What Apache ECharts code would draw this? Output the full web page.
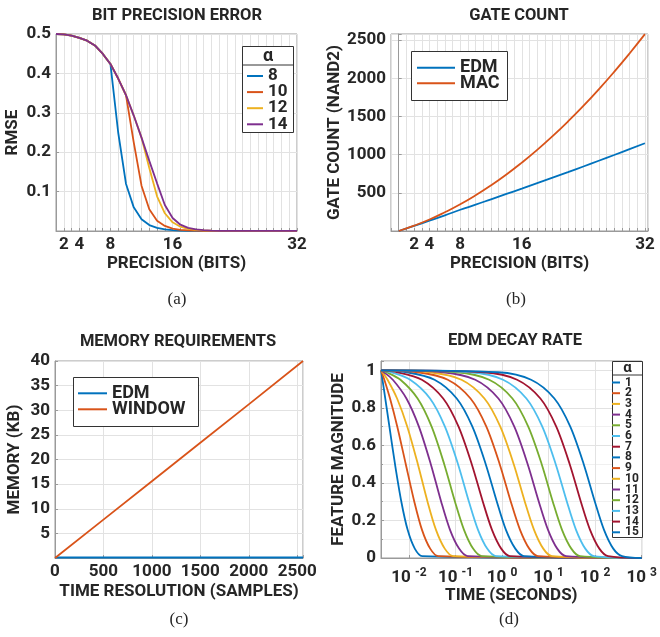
<!DOCTYPE html>
<html lang="en">
<head>
<meta charset="UTF-8">
<title>EDM figure</title>
<script src="https://cdn.jsdelivr.net/npm/echarts@6/dist/echarts.min.js"></script>
<style>body{margin:0;background:#fff}</style>
</head>
<body>
<div id="fig" style="width:660px;height:637px;"></div>
<script>
// (a) bit precision error, RMSE per precision for each alpha
var precisionBits = [1,2,3,4,5,6,7,8,9,10,11,12,13,14,15,16,17,18,19,20,21,22,23,24,25,26,27,28,29,30,31,32];
var rmseAlpha8  = [0.500,0.499,0.496,0.490,0.483,0.471,0.450,0.424,0.250,0.120,0.060,0.030,0.015,0.008,0.004,0.002,0.001,0.0005,0.0005,0.0005,0.0005,0.0005,0.0005,0.0005,0.0005,0.0005,0.0005,0.0005,0.0005,0.0005,0.0005,0.0005];
var rmseAlpha10 = [0.500,0.499,0.496,0.490,0.483,0.471,0.450,0.424,0.387,0.345,0.225,0.115,0.055,0.026,0.013,0.006,0.003,0.0015,0.0008,0.0005,0.0005,0.0005,0.0005,0.0005,0.0005,0.0005,0.0005,0.0005,0.0005,0.0005,0.0005,0.0005];
var rmseAlpha12 = [0.500,0.499,0.496,0.490,0.483,0.471,0.450,0.424,0.387,0.345,0.293,0.237,0.160,0.088,0.045,0.022,0.011,0.0055,0.0028,0.0014,0.0008,0.0005,0.0005,0.0005,0.0005,0.0005,0.0005,0.0005,0.0005,0.0005,0.0005,0.0005];
var rmseAlpha14 = [0.500,0.499,0.496,0.490,0.483,0.471,0.450,0.424,0.387,0.345,0.293,0.237,0.178,0.121,0.066,0.033,0.016,0.008,0.004,0.002,0.001,0.0005,0.0005,0.0005,0.0005,0.0005,0.0005,0.0005,0.0005,0.0005,0.0005,0.0005];
var bitTickLabels = [2, 4, 8, 16, 32];

// (b) gate count
var gateBits = [0,2,4,6,8,10,12,14,16,18,20,22,24,26,28,30,32];
var edmGates = [0,67,135,205,278,345,415,485,555,626,698,771,845,920,995,1072,1149];
var macGates = [0,70,150,245,350,468,598,740,895,1062,1242,1434,1638,1855,2084,2325,2578];

// (c) memory requirements
var memSamples = [0, 500, 1000, 1500, 2000, 2560];
var edmKB = [0.1, 0.1, 0.1, 0.1, 0.1, 0.1];
var windowKB = [0, 7.8, 15.6, 23.4, 31.2, 40];

// (d) decay: time (s) at which each alpha curve reaches the given magnitude
var decayStart = [0.0025, 1];
var decayEnd = [1000, 0];
var decayLevels = [0.99, 0.95, 0.85, 0.7, 0.5, 0.3, 0.15, 0.05, 0.01];
var decayTimes = [
  [0.00254, 0.00269, 0.00309, 0.00379, 0.00500, 0.00684, 0.00934, 0.0133, 0.0191],
  [0.00259, 0.00295, 0.00391, 0.00560, 0.00852, 0.0130, 0.0190, 0.0285, 0.0425],
  [0.00269, 0.00346, 0.00554, 0.00918, 0.0155, 0.0250, 0.0380, 0.0586, 0.0887],
  [0.00289, 0.00449, 0.00880, 0.0163, 0.0294, 0.0491, 0.0760, 0.119, 0.181],
  [0.00329, 0.00654, 0.0153, 0.0306, 0.0571, 0.0973, 0.152, 0.238, 0.365],
  [0.00410, 0.0106, 0.0283, 0.0591, 0.113, 0.194, 0.304, 0.478, 0.734],
  [0.00570, 0.0189, 0.0543, 0.116, 0.223, 0.386, 0.607, 0.957, 1.47],
  [0.00892, 0.0353, 0.106, 0.230, 0.445, 0.772, 1.21, 1.92, 2.94],
  [0.0154, 0.0681, 0.210, 0.459, 0.889, 1.54, 2.43, 3.83, 5.89],
  [0.0282, 0.134, 0.418, 0.915, 1.78, 3.08, 4.86, 7.67, 11.8],
  [0.0540, 0.265, 0.834, 1.83, 3.55, 6.16, 9.71, 15.3, 23.6],
  [0.105, 0.528, 1.67, 3.65, 7.10, 12.3, 19.4, 30.7, 47.1],
  [0.208, 1.05, 3.33, 7.31, 14.2, 24.7, 38.8, 61.3, 94.3],
  [0.414, 2.10, 6.66, 14.6, 28.4, 49.3, 77.7, 123, 189],
  [0.826, 4.20, 13.3, 29.2, 56.8, 98.6, 155, 245, 377]
];
var alphaNames = ['1','2','3','4','5','6','7','8','9','10','11','12','13','14','15'];

var colors = ['#0072BD', '#D95319', '#EDB120', '#7E2F8E', '#77AC30', '#4DBEEE', '#A2142F'];
var axisGray = '#9a9a9a';
var gridGray = '#e2e2e2';
var minorGray = '#f0f0f0';
var ink = '#262626';
var font = 'Roboto';

function zip(xs, ys) {
  return xs.map(function (x, i) { return [x, ys[i]]; });
}
function stripName(name) { return name.slice(1); }

function axisBase(extra) {
  var a = {
    axisLine: { show: true, lineStyle: { color: axisGray } },
    axisTick: { show: true, inside: true, length: 3, lineStyle: { color: axisGray } },
    splitLine: { show: true, lineStyle: { color: gridGray } },
    axisLabel: { color: ink, fontFamily: font, fontWeight: 'bold', fontSize: 17, margin: 5 },
    nameLocation: 'middle',
    nameTextStyle: { color: ink, fontFamily: font, fontWeight: 'bold', fontSize: 17 }
  };
  for (var k in extra) {
    if (k === 'axisLabel') Object.assign(a.axisLabel, extra[k]);
    else a[k] = extra[k];
  }
  return a;
}

function legendBase(extra) {
  var l = {
    orient: 'vertical', icon: 'rect', itemHeight: 2, itemGap: 0, padding: 0,
    selectedMode: false, formatter: stripName,
    textStyle: { color: ink, fontFamily: font, fontWeight: 'bold', fontSize: 17 }
  };
  for (var k in extra) {
    if (k === 'textStyle') Object.assign(l.textStyle, extra[k]);
    else l[k] = extra[k];
  }
  return l;
}

function lineSeries(name, gi, data, color, smooth) {
  return {
    name: name, type: 'line', xAxisIndex: gi, yAxisIndex: gi, data: data,
    showSymbol: false, symbol: 'none', smooth: smooth,
    color: color, lineStyle: { width: 1.8, color: color }, animation: false
  };
}

var series = [];
[rmseAlpha8, rmseAlpha10, rmseAlpha12, rmseAlpha14].forEach(function (ys, i) {
  series.push(lineSeries('a' + [8, 10, 12, 14][i], 0, zip(precisionBits, ys), colors[i], false));
});
series.push(lineSeries('bEDM', 1, zip(gateBits, edmGates), colors[0], true));
series.push(lineSeries('bMAC', 1, zip(gateBits, macGates), colors[1], true));
series.push(lineSeries('cEDM', 2, zip(memSamples, edmKB), colors[0], false));
series.push(lineSeries('cWINDOW', 2, zip(memSamples, windowKB), colors[1], false));
decayTimes.forEach(function (ts, i) {
  var pts = [decayStart].concat(zip(ts, decayLevels)).concat([decayEnd]);
  series.push(lineSeries('d' + alphaNames[i], 3, pts, colors[i % 7], 0.3));
});

function text(x, y, str, fontCss) {
  return { type: 'text', x: x, y: y, z: 5,
    style: { text: str, font: fontCss, fill: ink, align: 'center', verticalAlign: 'middle' } };
}
function box(x, y, w, h) {
  return { type: 'rect', z: 3, shape: { x: x, y: y, width: w, height: h },
    style: { fill: '#fff', stroke: '#333', lineWidth: 1 } };
}
function hline(x1, x2, y) {
  return { type: 'line', z: 3, shape: { x1: x1, y1: y, x2: x2, y2: y },
    style: { stroke: '#333', lineWidth: 1 } };
}

var titleFont = 'bold 16.5px Roboto';
var capFont = '17px "Liberation Serif"';

var option = {
  backgroundColor: '#fff',
  animation: false,
  grid: [
    { left: 56, top: 34, width: 241, height: 197, show: true, borderColor: axisGray, borderWidth: 1 },
    { left: 391, top: 34, width: 257, height: 197, show: true, borderColor: axisGray, borderWidth: 1 },
    { left: 55, top: 361, width: 248, height: 197, show: true, borderColor: axisGray, borderWidth: 1 },
    { left: 381, top: 361, width: 266, height: 197, show: true, borderColor: axisGray, borderWidth: 1 }
  ],
  xAxis: [
    axisBase({ gridIndex: 0, type: 'value', min: 1, max: 32, interval: 1,
      name: 'PRECISION (BITS)', nameGap: 24,
      axisLabel: { formatter: function (v) { return bitTickLabels.indexOf(v) >= 0 ? String(v) : ''; } } }),
    axisBase({ gridIndex: 1, type: 'value', min: -1, max: 32.4, interval: 1,
      name: 'PRECISION (BITS)', nameGap: 24,
      axisLabel: { formatter: function (v) { return bitTickLabels.indexOf(v) >= 0 ? String(v) : ''; } } }),
    axisBase({ gridIndex: 2, type: 'value', min: 0, max: 2560, interval: 500,
      name: 'TIME RESOLUTION (SAMPLES)', nameGap: 25,
      axisLabel: { formatter: function (v) { return v % 500 === 0 ? String(v) : ''; } } }),
    axisBase({ gridIndex: 3, type: 'log', logBase: 10, min: 0.0025, max: 1000,
      name: 'TIME (SECONDS)', nameGap: 26,
      axisLabel: {
        margin: 9,
        formatter: function (v) {
          var e = Math.log10(v), r = Math.round(e);
          return Math.abs(e - r) < 1e-6 ? '10 {s|' + r + '}' : '';
        },
        rich: { s: { fontSize: 12, fontWeight: 'bold', fontFamily: font, color: ink, padding: [0, 0, 10, 0] } }
      } })
  ],
  yAxis: [
    axisBase({ gridIndex: 0, type: 'value', min: 0, max: 0.5, interval: 0.1,
      name: 'RMSE', nameGap: 35,
      axisLabel: { formatter: function (v) { return v === 0 ? '' : v.toFixed(1); } } }),
    axisBase({ gridIndex: 1, type: 'value', min: 0, max: 2580, interval: 500,
      name: 'GATE COUNT (NAND2)', nameGap: 47,
      axisLabel: { formatter: function (v) { return (v > 0 && v % 500 === 0) ? String(v) : ''; } } }),
    axisBase({ gridIndex: 2, type: 'value', min: 0, max: 40, interval: 5,
      name: 'MEMORY (KB)', nameGap: 32,
      axisLabel: { formatter: function (v) { return v === 0 ? '' : String(v); } } }),
    axisBase({ gridIndex: 3, type: 'value', min: 0, max: 1.05, interval: 0.2,
      name: 'FEATURE MAGNITUDE', nameGap: 33,
      minorTick: { show: true, splitNumber: 2, length: 2, lineStyle: { color: axisGray } },
      minorSplitLine: { show: true, lineStyle: { color: minorGray } },
      axisLabel: { formatter: function (v) { return v > 1.01 ? '' : String(+v.toFixed(1)); } } })
  ],
  legend: [
    legendBase({ data: ['a8', 'a10', 'a12', 'a14'], left: 247, top: 67.5, itemWidth: 16, itemGap: -0.9 }),
    legendBase({ data: ['bEDM', 'bMAC'], left: 417, top: 58.7, itemWidth: 38, itemGap: -2.4,
      textStyle: { fontSize: 18 } }),
    legendBase({ data: ['cEDM', 'cWINDOW'], left: 78, top: 384.3, itemWidth: 29, itemGap: -2,
      textStyle: { fontSize: 18 } }),
    legendBase({ data: alphaNames.map(function (n) { return 'd' + n; }), left: 612, top: 376.5, itemWidth: 8,
      itemGap: -1.3, textStyle: { fontSize: 12 } })
  ],
  graphic: [
    text(177, 16, 'BIT PRECISION ERROR', titleFont),
    text(519, 16, 'GATE COUNT', titleFont),
    text(178, 342, 'MEMORY REQUIREMENTS', titleFont),
    text(515, 341, 'EDM DECAY RATE', titleFont),
    text(177, 300, '(a)', capFont),
    text(516, 300, '(b)', capFont),
    text(179, 620, '(c)', capFont),
    text(509, 620, '(d)', capFont),
    box(242.5, 46.5, 51, 86),
    hline(242.5, 293.5, 65),
    text(268, 56, 'α', 'bold 18px Roboto'),
    box(411.5, 51.5, 96, 49),
    box(73.5, 377.5, 125, 49),
    box(612.5, 361.5, 30, 176),
    hline(612.5, 642.5, 375),
    text(627.5, 368, 'α', 'bold 15px Roboto')
  ],
  series: series
};

var chart = echarts.init(document.getElementById('fig'));
chart.setOption(option);
</script>
</body>
</html>
